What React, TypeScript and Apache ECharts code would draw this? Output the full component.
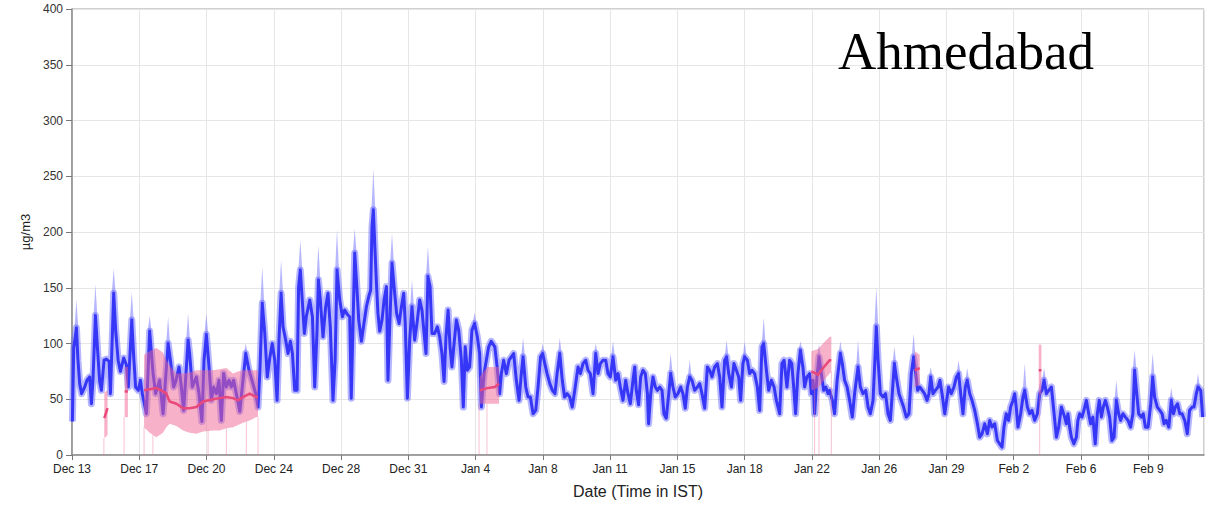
import React, { useEffect, useRef } from "react";
import * as echarts from "echarts";

// x values are days since the Dec 13 tick (left edge of the plot)
const xLabels = ["Dec 13", "Dec 17", "Dec 20", "Dec 24", "Dec 28", "Dec 31", "Jan 4", "Jan 8", "Jan 11", "Jan 15", "Jan 18", "Jan 22", "Jan 26", "Jan 29", "Feb 2", "Feb 6", "Feb 9"];
const xTickStep = 3.5;
const xMax = 58.9;
const yMax = 400;
const yStep = 50;
const title = "Ahmedabad";
const yName = "µg/m3";
const xName = "Date (Time in IST)";

// blue series: [day, µg/m3]
const blueSeries: [number, number][] = [
  [0.02, 30], [0.09, 96], [0.23, 114], [0.31, 85], [0.4, 64], [0.5, 55], [0.66, 61], [0.78, 67], [0.92, 70], [1.01, 46], [1.09, 67], [1.22, 125], [1.32, 97], [1.44, 66], [1.53, 58], [1.67, 85], [1.79, 86], [1.93, 84], [2.0, 55], [2.17, 145], [2.27, 112], [2.4, 85], [2.52, 75], [2.69, 87], [2.83, 81], [2.93, 61], [3.11, 121], [3.21, 88], [3.31, 61], [3.45, 58], [3.56, 67], [3.66, 55], [3.87, 37], [4.04, 111], [4.22, 73], [4.35, 55], [4.56, 67], [4.74, 37], [5.0, 100], [5.12, 85], [5.29, 61], [5.4, 66], [5.57, 79], [5.69, 61], [5.81, 40], [6.04, 103], [6.12, 91], [6.26, 61], [6.47, 70], [6.61, 55], [6.76, 30], [6.87, 85],
  [6.99, 108], [7.13, 79], [7.25, 49], [7.37, 61], [7.51, 55], [7.65, 67], [7.77, 31], [7.89, 73], [8.03, 61], [8.17, 67], [8.29, 61], [8.41, 67], [8.55, 55], [8.73, 39], [8.86, 61], [9.04, 91], [9.21, 76], [9.38, 66], [9.56, 55], [9.68, 43], [9.77, 73], [9.9, 136], [10.03, 109], [10.16, 70], [10.29, 87], [10.42, 100], [10.55, 85], [10.67, 49], [10.77, 103], [10.88, 145], [10.98, 115], [11.12, 103], [11.24, 91], [11.36, 102], [11.47, 91], [11.59, 58], [11.71, 58], [11.79, 151], [11.88, 166], [11.98, 139], [12.09, 109], [12.19, 124], [12.37, 139], [12.51, 124], [12.63, 61], [12.75, 112], [12.82, 157], [12.92, 139], [13.06, 106], [13.2, 133], [13.32, 145], [13.44, 115], [13.58, 49], [13.69, 85], [13.79, 166], [13.93, 139], [14.07, 124],
  [14.19, 130], [14.33, 126], [14.45, 124], [14.53, 51], [14.62, 115], [14.71, 181], [14.81, 154], [14.92, 121], [15.06, 102], [15.19, 118], [15.32, 133], [15.44, 142], [15.54, 148], [15.61, 205], [15.68, 220], [15.75, 190], [15.84, 154], [15.92, 127], [16.01, 111], [16.13, 121], [16.24, 139], [16.36, 151], [16.44, 67], [16.53, 115], [16.65, 172], [16.79, 145], [16.89, 127], [17.02, 118], [17.14, 133], [17.26, 145], [17.34, 118], [17.45, 51], [17.57, 103], [17.69, 133], [17.83, 103], [17.97, 121], [18.09, 139], [18.21, 130], [18.32, 109], [18.42, 91], [18.52, 160], [18.63, 151], [18.73, 109], [18.87, 109], [19.01, 115], [19.13, 106], [19.25, 91], [19.36, 66], [19.46, 106], [19.57, 130], [19.67, 97], [19.77, 79], [19.88, 100], [20.0, 121], [20.12, 112], [20.26, 85], [20.36, 43], [20.46, 97], [20.57, 76], [20.69, 79], [20.81, 112], [20.95, 118], [21.09, 106], [21.21, 91], [21.3, 43], [21.44, 73], [21.56, 85], [21.68, 97], [21.81, 102],
  [22.0, 97], [22.12, 79], [22.25, 55], [22.34, 73], [22.46, 85], [22.6, 73], [22.74, 85], [22.86, 88], [22.98, 91], [23.12, 67], [23.26, 49], [23.38, 73], [23.47, 88], [23.61, 61], [23.73, 52], [23.85, 52], [23.99, 37], [24.13, 40], [24.25, 61], [24.38, 88], [24.49, 91], [24.6, 82], [24.72, 73], [24.86, 64], [25.0, 58], [25.13, 55], [25.24, 73], [25.38, 91], [25.51, 67], [25.63, 52], [25.76, 55], [25.9, 52], [26.03, 43], [26.16, 58], [26.33, 79], [26.45, 73], [26.59, 82], [26.73, 85], [26.85, 76], [26.97, 73], [27.11, 55], [27.25, 91], [27.37, 73], [27.49, 82], [27.63, 85], [27.77, 85], [27.89, 73], [28.01, 70], [28.15, 88], [28.29, 67], [28.41, 73], [28.53, 61], [28.67, 49], [28.81, 67], [28.93, 55], [29.05, 46], [29.19, 67],
  [29.28, 79], [29.36, 58], [29.48, 45], [29.59, 70], [29.71, 76], [29.83, 73], [29.94, 55], [30.0, 28], [30.11, 55], [30.23, 70], [30.35, 61], [30.46, 58], [30.58, 61], [30.7, 58], [30.8, 37], [30.92, 33], [31.05, 55], [31.15, 73], [31.27, 61], [31.39, 52], [31.53, 55], [31.67, 61], [31.79, 55], [31.91, 42], [32.02, 61], [32.14, 70], [32.26, 67], [32.4, 58], [32.54, 61], [32.66, 64], [32.78, 55], [32.92, 42], [33.06, 79], [33.18, 76], [33.3, 70], [33.44, 79], [33.58, 82], [33.7, 70], [33.82, 43], [33.96, 85], [34.06, 88], [34.17, 73], [34.31, 61], [34.44, 82], [34.57, 76], [34.69, 70], [34.79, 49], [34.91, 82], [35.0, 88], [35.14, 85], [35.26, 73], [35.38, 76], [35.52, 73], [35.66, 61], [35.78, 40], [35.9, 97], [35.99, 100], [36.13, 76], [36.25, 58], [36.39, 67], [36.53, 61], [36.65, 49], [36.82, 37], [36.94, 82], [37.05, 85],
  [37.2, 61], [37.34, 85], [37.45, 82], [37.55, 61], [37.65, 37], [37.77, 73], [37.9, 94], [38.03, 79], [38.12, 61], [38.24, 70], [38.38, 73], [38.47, 55], [38.56, 67], [38.64, 37], [38.76, 70], [38.87, 88], [38.99, 73], [39.11, 58], [39.22, 61], [39.34, 55], [39.42, 58], [39.56, 49], [39.68, 37], [39.81, 67], [39.98, 91], [40.08, 82], [40.2, 67], [40.33, 61], [40.46, 49], [40.6, 34], [40.72, 55], [40.9, 79], [41.02, 61], [41.16, 55], [41.3, 58], [41.42, 43], [41.54, 37], [41.68, 49], [41.76, 79], [41.85, 115], [41.94, 85], [42.06, 55], [42.2, 52], [42.33, 55], [42.46, 37], [42.58, 31], [42.68, 55], [42.79, 82], [42.89, 70], [43.03, 55], [43.15, 49], [43.27, 43], [43.41, 34], [43.55, 37], [43.67, 73], [43.79, 88], [43.9, 73], [44.0, 58], [44.11, 61], [44.24, 58], [44.36, 55], [44.49, 49], [44.59, 55],
  [44.68, 70], [44.8, 55], [44.92, 58], [45.06, 61], [45.16, 67], [45.27, 55], [45.41, 37], [45.51, 49], [45.61, 61], [45.75, 55], [45.89, 61], [46.02, 70], [46.13, 73], [46.24, 55], [46.36, 37], [46.48, 61], [46.58, 67], [46.71, 55], [46.83, 49], [46.97, 40], [47.11, 28], [47.23, 16], [47.35, 19], [47.49, 28], [47.63, 19], [47.75, 31], [47.87, 25], [48.01, 28], [48.15, 13], [48.27, 10], [48.39, 7], [48.49, 25], [48.61, 37], [48.73, 31], [48.84, 43], [48.96, 49], [49.05, 55], [49.13, 43], [49.22, 25], [49.36, 37], [49.48, 52], [49.57, 58], [49.71, 43], [49.83, 37], [49.95, 40], [50.09, 31], [50.23, 37], [50.35, 55], [50.47, 58], [50.58, 67], [50.7, 55], [50.82, 58], [50.96, 61], [51.1, 37], [51.22, 16], [51.34, 25], [51.48, 43],
  [51.65, 34], [51.74, 28], [51.82, 37], [51.91, 25], [52.0, 16], [52.13, 10], [52.26, 16], [52.34, 31], [52.43, 37], [52.55, 34], [52.65, 40], [52.78, 49], [52.9, 37], [53.0, 28], [53.12, 34], [53.24, 10], [53.35, 37], [53.45, 49], [53.56, 34], [53.66, 43], [53.77, 49], [53.87, 43], [53.99, 34], [54.11, 13], [54.22, 16], [54.34, 49], [54.46, 37], [54.56, 31], [54.68, 37], [54.81, 34], [54.95, 31], [55.08, 25], [55.2, 37], [55.29, 76], [55.4, 55], [55.5, 37], [55.64, 34], [55.74, 37], [55.85, 25], [55.99, 25], [56.13, 46], [56.23, 70], [56.33, 52], [56.47, 43], [56.6, 40], [56.72, 37], [56.82, 28], [56.94, 31], [57.07, 25], [57.2, 49], [57.31, 37], [57.41, 43], [57.52, 46], [57.64, 37], [57.76, 37], [57.9, 31], [58.03, 19], [58.15, 40], [58.28, 43], [58.38, 43], [58.5, 55], [58.59, 61], [58.73, 58], [58.83, 34],
];

// blue band spikes above the line: [day, line value, band top]
const blueSpikes: [number, number, number][] = [
  [0.23, 114, 139], [1.22, 125, 153], [2.17, 145, 167], [3.11, 121, 146], [4.04, 111, 125], [5.0, 100, 124], [6.04, 103, 127],
  [6.99, 108, 127], [9.04, 91, 100], [9.9, 136, 169], [10.88, 145, 175], [11.88, 166, 193], [12.82, 157, 188], [13.79, 166, 202],
  [14.71, 181, 203], [15.68, 220, 257], [16.65, 172, 199], [17.69, 133, 157], [18.52, 160, 187], [20.95, 118, 128],
  [23.47, 88, 105], [24.49, 91, 100], [25.38, 91, 105], [27.25, 91, 100], [28.15, 88, 102],
  [31.15, 73, 91], [32.14, 70, 85], [34.06, 88, 103], [35.0, 88, 102], [35.99, 100, 123],
  [37.9, 94, 102], [38.87, 88, 99], [39.98, 91, 102], [40.9, 79, 103], [41.85, 115, 151], [42.79, 82, 97], [43.79, 88, 109],
  [44.68, 70, 79], [46.13, 73, 85], [46.58, 67, 78], [49.57, 58, 82], [50.58, 67, 78],
  [54.34, 49, 67], [55.29, 76, 94], [56.23, 70, 91], [57.2, 49, 60], [58.59, 61, 73],
];

// pink series segments: [day, band low, line, band high]
const pinkSegments: [number, number, number, number][][] = [
  [[1.68, 15, 33, 56], [1.85, 18, 42, 58]],
  [[2.74, 34, 57, 79], [2.91, 34, 57, 79]],
  [[3.75, 25, 58, 90], [4.04, 20, 59, 93], [4.39, 16, 60, 96], [4.73, 20, 57, 92], [4.91, 25, 55, 85], [5.08, 28, 48, 80], [5.43, 26, 46, 73], [5.78, 22, 42, 73], [6.12, 20, 42, 74], [6.47, 19, 43, 76], [6.82, 21, 48, 76], [7.34, 22, 50, 76], [7.68, 22, 51, 77], [8.03, 24, 52, 78], [8.38, 25, 51, 73], [8.64, 27, 49, 75], [8.9, 29, 52, 76], [9.24, 31, 55, 76], [9.59, 34, 52, 76], [9.68, 34, 52, 76]],
  [[21.21, 46, 58, 70], [21.6, 46, 60, 79], [22.0, 46, 61, 79], [22.22, 46, 64, 79]],
  [[38.47, 58, 75, 93], [38.82, 60, 72, 95], [39.08, 66, 78, 100], [39.42, 73, 85, 106], [39.51, 75, 85, 106]],
  [[43.85, 61, 76, 93], [44.11, 63, 78, 90]],
  [[50.3, 54, 76, 99], [50.44, 54, 76, 99]],
];

// faint pink drops to zero: [day, top]
const pinkDrops: [number, number][] = [
  [1.66, 15], [2.71, 34], [3.75, 25], [4.21, 18], [7.08, 22], [8.03, 24], [9.07, 30], [9.68, 34],
  [21.18, 46], [21.59, 46], [38.64, 59], [38.87, 60], [39.51, 75], [50.35, 54],
];

const BLUE = "#3636f6";
const BLUE_BAND = "rgba(95,95,255,0.45)";
const PINK = "#e9487a";
const PINK_BAND = "rgba(240,100,145,0.5)";
const FONT = '"Liberation Sans", Arial, Helvetica, sans-serif';

export default function App() {
  const ref = useRef<HTMLDivElement>(null);
  useEffect(() => {
    if (!ref.current) return;
    const chart = echarts.init(ref.current, null, { renderer: "svg" });
    const option: any = {
      animation: false,
      backgroundColor: "#ffffff",
      grid: {
        left: 72, right: 4, top: 9, bottom: 50,
        outerBoundsMode: "none", containLabel: false,
        show: true, borderColor: "#a0a0a0", borderWidth: 1, backgroundColor: "transparent",
      },
      graphic: [
        {
          type: "text",
          left: 838,
          top: 24,
          z: 100,
          style: { text: title, font: '53px "Liberation Serif", "Times New Roman", serif', fill: "#000" },
        },
      ],
      xAxis: {
        type: "value",
        min: 0,
        max: xMax,
        interval: xTickStep,
        name: xName,
        nameLocation: "middle",
        nameGap: 28,
        nameTextStyle: { fontFamily: FONT, fontSize: 16, color: "#222" },
        axisLine: { show: true, lineStyle: { color: "#8c8c8c", width: 1.5 } },
        axisTick: { show: true, length: 5, lineStyle: { color: "#777" } },
        axisLabel: {
          margin: 8,
          fontFamily: FONT,
          fontSize: 12,
          color: "#222",
          showMaxLabel: false,
          formatter: (v: number) => {
            const i = Math.round(v / xTickStep);
            return Math.abs(v - i * xTickStep) < 1e-6 && xLabels[i] ? xLabels[i] : "";
          },
        },
        splitLine: { show: true, lineStyle: { color: "#e6e6e6", width: 1 } },
      },
      yAxis: {
        type: "value",
        min: 0,
        max: yMax,
        interval: yStep,
        name: yName,
        nameLocation: "middle",
        nameGap: 35,
        nameTextStyle: { fontFamily: FONT, fontSize: 13, color: "#222" },
        axisLine: { show: true, lineStyle: { color: "#8c8c8c", width: 1.5 } },
        axisTick: { show: true, length: 6, lineStyle: { color: "#777" } },
        axisLabel: { margin: 9, fontFamily: FONT, fontSize: 12, color: "#333" },
        splitLine: { show: true, lineStyle: { color: "#e6e6e6", width: 1 } },
      },
      series: [
        {
          type: "line",
          data: blueSeries,
          showSymbol: false,
          lineStyle: { color: BLUE_BAND, width: 7, join: "round" },
          silent: true,
          z: 2,
        },
        {
          type: "custom",
          data: blueSpikes,
          encode: { x: 0, y: [1, 2] },
          silent: true,
          z: 2,
          renderItem: (params: any, api: any) => {
            const d = api.value(0), b = api.value(1), t = api.value(2);
            const p1 = api.coord([d - 0.1, b]);
            const p2 = api.coord([d, t]);
            const p3 = api.coord([d + 0.1, b]);
            return { type: "polygon", shape: { points: [p1, p2, p3] }, style: { fill: BLUE_BAND } };
          },
        },
        {
          type: "line",
          data: blueSeries,
          showSymbol: false,
          lineStyle: { color: BLUE, width: 3, join: "round" },
          silent: true,
          z: 3,
        },
        {
          type: "custom",
          data: pinkDrops,
          encode: { x: 0, y: 1 },
          silent: true,
          z: 4,
          renderItem: (params: any, api: any) => {
            const d = api.value(0), t = api.value(1);
            const a = api.coord([d, 0]);
            const b = api.coord([d, t]);
            return { type: "line", shape: { x1: a[0], y1: a[1], x2: b[0], y2: b[1] }, style: { stroke: "rgba(240,120,155,0.45)", lineWidth: 1 } };
          },
        },
        {
          type: "custom",
          data: pinkSegments.map((seg) => [seg[0][0], seg[0][2]]),
          encode: { x: 0, y: 1 },
          silent: true,
          z: 5,
          renderItem: (params: any, api: any) => {
            const seg = pinkSegments[params.dataIndex];
            const lows = seg.map((p) => api.coord([p[0], p[1]]));
            const highs = seg.map((p) => api.coord([p[0], p[3]])).reverse();
            const mids = seg.map((p) => api.coord([p[0], p[2]]));
            return {
              type: "group",
              children: [
                { type: "polygon", shape: { points: lows.concat(highs) }, style: { fill: PINK_BAND } },
                { type: "polyline", shape: { points: mids }, style: { stroke: PINK, lineWidth: 2.5, fill: null } },
              ],
            };
          },
        },
      ],
    };
    chart.setOption(option);
    return () => chart.dispose();
  }, []);
  return <div ref={ref} style={{ position: "absolute", left: 0, top: 0, width: 1208, height: 505 }} />;
}
